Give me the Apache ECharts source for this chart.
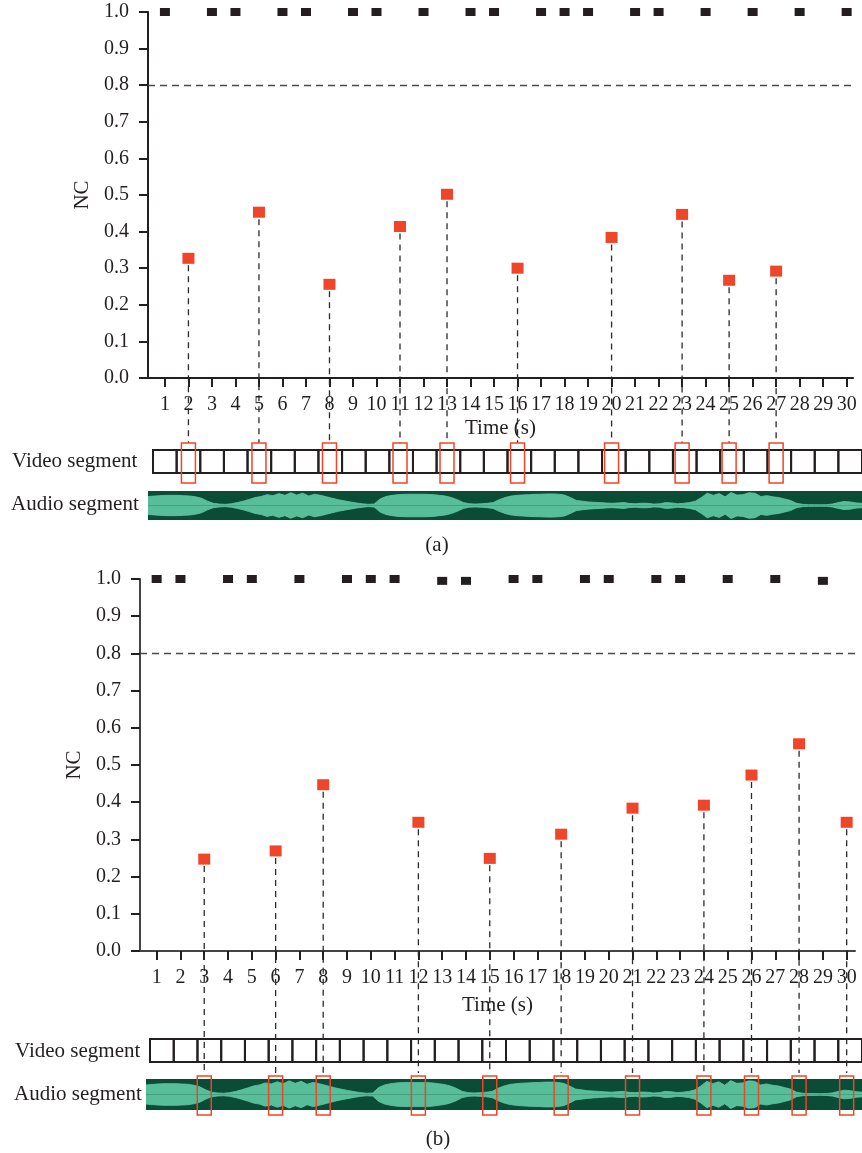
<!DOCTYPE html>
<html>
<head>
<meta charset="utf-8">
<title>NC of video segments</title>
<script src="https://cdn.jsdelivr.net/npm/echarts@6/dist/echarts.min.js"></script>
<style>
  html, body { margin: 0; padding: 0; background: #fff; }
  #chart { width: 862px; height: 1153px; }
</style>
</head>
<body>
<div id="chart"></div>
<script>
// time ticks (s) / video segments
const seconds = [1, 2, 3, 4, 5, 6, 7, 8, 9, 10, 11, 12, 13, 14, 15, 16, 17, 18, 19, 20, 21, 22, 23, 24, 25, 26, 27, 28, 29, 30];

// (a) tampered segments and their NC
const markedA = [2, 5, 8, 11, 13, 16, 20, 23, 25, 27];
const markedNcA = [0.327, 0.453, 0.256, 0.414, 0.502, 0.300, 0.384, 0.447, 0.267, 0.292];
// (a) untouched segments
const cleanA = [1, 3, 4, 6, 7, 9, 10, 12, 14, 15, 17, 18, 19, 21, 22, 24, 26, 28, 30];
const cleanNcA = [1, 1, 1, 1, 1, 1, 1, 1, 1, 1, 1, 1, 1, 1, 1, 1, 1, 1, 1];

// (b)
const markedB = [3, 6, 8, 12, 15, 18, 21, 24, 26, 28, 30];
const markedNcB = [0.247, 0.269, 0.447, 0.346, 0.249, 0.314, 0.384, 0.392, 0.473, 0.557, 0.346];
const cleanB = [1, 2, 4, 5, 7, 9, 10, 11, 13, 14, 16, 17, 19, 20, 22, 23, 25, 27, 29];
const cleanNcB = [1, 1, 1, 1, 1, 1, 1, 1, 0.995, 0.995, 1, 1, 1, 1, 1, 1, 1, 1, 0.995];

const threshold = 0.8;

// audio envelope (same clip in both panels), time 0..30 every 0.25
const audioTime = [0, 0.25, 0.5, 0.75, 1, 1.25, 1.5, 1.75, 2, 2.25, 2.5, 2.75, 3, 3.25, 3.5, 3.75,
  4, 4.25, 4.5, 4.75, 5, 5.25, 5.5, 5.75, 6, 6.25, 6.5, 6.75, 7, 7.25, 7.5, 7.75,
  8, 8.25, 8.5, 8.75, 9, 9.25, 9.5, 9.75, 10, 10.25, 10.5, 10.75, 11, 11.25, 11.5, 11.75,
  12, 12.25, 12.5, 12.75, 13, 13.25, 13.5, 13.75, 14, 14.25, 14.5, 14.75, 15, 15.25, 15.5, 15.75,
  16, 16.25, 16.5, 16.75, 17, 17.25, 17.5, 17.75, 18, 18.25, 18.5, 18.75, 19, 19.25, 19.5, 19.75,
  20, 20.25, 20.5, 20.75, 21, 21.25, 21.5, 21.75, 22, 22.25, 22.5, 22.75, 23, 23.25, 23.5, 23.75,
  24, 24.25, 24.5, 24.75, 25, 25.25, 25.5, 25.75, 26, 26.25, 26.5, 26.75, 27, 27.25, 27.5, 27.75,
  28, 28.25, 28.5, 28.75, 29, 29.25, 29.5, 29.75, 30];
const audioEnv = [0.62, 0.65, 0.68, 0.7, 0.7, 0.7, 0.68, 0.66, 0.6, 0.5, 0.3, 0.15, 0.1, 0.08, 0.12, 0.2,
  0.3, 0.42, 0.55, 0.62, 0.75, 0.68, 0.82, 0.7, 0.88, 0.72, 0.85, 0.66, 0.78, 0.7, 0.6, 0.5,
  0.4, 0.32, 0.25, 0.18, 0.12, 0.08, 0.1, 0.45, 0.62, 0.7, 0.75, 0.77, 0.78, 0.78, 0.78, 0.77,
  0.75, 0.7, 0.65, 0.55, 0.4, 0.2, 0.12, 0.1, 0.12, 0.15, 0.2, 0.4, 0.55, 0.65, 0.7, 0.73,
  0.75, 0.77, 0.78, 0.8, 0.8, 0.78, 0.72, 0.55, 0.35, 0.3, 0.25, 0.22, 0.2, 0.17, 0.15, 0.18,
  0.2, 0.14, 0.12, 0.16, 0.15, 0.1, 0.12, 0.2, 0.18, 0.12, 0.15, 0.2, 0.3, 0.55, 0.85, 0.7,
  0.82, 0.6, 0.9, 0.72, 0.75, 0.88, 0.85, 0.62, 0.68, 0.6, 0.55, 0.45, 0.35, 0.15, 0.08, 0.06,
  0.06, 0.05, 0.06, 0.1, 0.2, 0.28, 0.25, 0.18, 0.15];

const ink = '#231f20';
const red = '#ef4529';
const serif = '"Liberation Serif", "DejaVu Serif", serif';

const chart = echarts.init(document.getElementById('chart'));

const pair = (xs, ys) => xs.map((x, i) => [x, ys[i]]);

function mainX(idx, min, max, lineColor) {
  return {
    gridIndex: idx, type: 'value', min: min, max: max,
    name: 'Time (s)', nameLocation: 'middle', nameGap: idx === 0 ? 40 : 44,
    nameTextStyle: { fontFamily: serif, fontSize: 21, color: ink },
    axisLine: { show: true, lineStyle: { color: lineColor, width: 2 } },
    axisTick: { show: true, length: 9, customValues: seconds, lineStyle: { color: ink, width: 2 } },
    axisLabel: { customValues: seconds, margin: 17, fontFamily: serif, fontSize: 20, color: ink },
    splitLine: { show: false }
  };
}

function mainY(idx, lineColor) {
  return {
    gridIndex: idx, type: 'value', min: 0, max: 1, interval: 0.1,
    name: 'NC', nameLocation: 'middle', nameGap: 55,
    nameTextStyle: { fontFamily: serif, fontSize: 21, color: ink },
    axisLine: { show: true, lineStyle: { color: lineColor, width: 2 } },
    axisTick: { show: true, length: 9, lineStyle: { color: ink, width: 2 } },
    axisLabel: { margin: 19, fontFamily: serif, fontSize: 20, color: ink, formatter: v => v.toFixed(1) },
    splitLine: { show: false }
  };
}

function hiddenX(idx, min, max) {
  return { gridIndex: idx, type: 'value', min: min, max: max, show: false, splitLine: { show: false } };
}
function hiddenY(idx, min, max) {
  return { gridIndex: idx, type: 'value', min: min, max: max, show: false, splitLine: { show: false } };
}

// stems from the NC marker down to the segment strip, plus the red box on the strip
function stems(idx, xs, ys, drop, boxTop, boxH) {
  return {
    type: 'custom', xAxisIndex: idx, yAxisIndex: idx, clip: false, z: 6, silent: true,
    data: pair(xs, ys),
    renderItem: function (params, api) {
      const top = api.coord([api.value(0), api.value(1)]);
      const base = api.coord([api.value(0), 0]);
      return {
        type: 'group',
        children: [
          { type: 'line', shape: { x1: top[0], y1: top[1] + 7, x2: top[0], y2: base[1] + drop },
            style: { stroke: '#2b2b2b', lineWidth: 1.3, lineDash: [6, 5] } },
          { type: 'rect', shape: { x: top[0] - 7, y: base[1] + boxTop, width: 14, height: boxH },
            style: { fill: 'none', stroke: red, lineWidth: 1.5 } }
        ]
      };
    }
  };
}

function cells(idx) {
  return {
    type: 'custom', xAxisIndex: idx, yAxisIndex: idx, clip: false, z: 2, silent: true,
    data: seconds,
    renderItem: function (params, api) {
      const c = api.value(0);
      const p0 = api.coord([c - 0.5, 1]);
      const p1 = api.coord([c + 0.5, 0]);
      return { type: 'rect', shape: { x: p0[0], y: p0[1], width: p1[0] - p0[0], height: p1[1] - p0[1] },
        style: { fill: 'none', stroke: ink, lineWidth: 2 } };
    }
  };
}

function wave(idx) {
  const up = audioTime.map((t, i) => [t, audioEnv[i]]);
  const down = audioTime.map((t, i) => [t, -audioEnv[i]]);
  const base = {
    type: 'line', xAxisIndex: idx, yAxisIndex: idx, showSymbol: false, silent: true, z: 3,
    lineStyle: { width: 0.8, color: '#62c6a3' },
    areaStyle: { color: '#58bd99', opacity: 1, origin: 0 }
  };
  return [Object.assign({}, base, { data: up }), Object.assign({}, base, { data: down })];
}

function scatters(idx, xs, ys, cx, cy) {
  return [
    {
      type: 'scatter', xAxisIndex: idx, yAxisIndex: idx, symbol: 'rect', symbolSize: [10, 8], z: 5,
      itemStyle: { color: ink, opacity: 1 }, data: pair(cx, cy),
      markLine: {
        silent: true, symbol: 'none', label: { show: false },
        lineStyle: { color: '#4a4a4a', width: 1.3, type: [7, 5] },
        data: [{ yAxis: threshold }]
      }
    },
    {
      type: 'scatter', xAxisIndex: idx, yAxisIndex: idx, symbol: 'rect', symbolSize: [12, 11], z: 7,
      itemStyle: { color: red, opacity: 1 }, data: pair(xs, ys)
    }
  ];
}

const text = (str, x, y, align) => ({
  type: 'text', x: x, y: y,
  style: { text: str, font: '21px ' + serif, fill: ink, textAlign: align, align: align,
    textVerticalAlign: 'middle', verticalAlign: 'middle' }
});

chart.setOption({
  animation: false,
  backgroundColor: '#fff',
  grid: [
    { left: 148, top: 12, width: 705, height: 366 },
    { left: 140, top: 579, width: 715, height: 372 },
    { left: 153, top: 450, width: 709, height: 23 },
    { left: 148, top: 491, width: 714, height: 29, show: true, backgroundColor: '#0b4c36', borderWidth: 0 },
    { left: 150, top: 1039, width: 712, height: 23 },
    { left: 146, top: 1079, width: 716, height: 31, show: true, backgroundColor: '#0b4c36', borderWidth: 0 }
  ],
  xAxis: [
    mainX(0, 0.28, 30.27, ink),
    mainX(1, 0.3, 30.35, '#444'),
    hiddenX(2, 0.5, 30.5),
    hiddenX(3, 0, 30),
    hiddenX(4, 0.5, 30.5),
    hiddenX(5, 0, 30)
  ],
  yAxis: [
    mainY(0, ink),
    mainY(1, '#444'),
    hiddenY(2, 0, 1),
    hiddenY(3, -1, 1),
    hiddenY(4, 0, 1),
    hiddenY(5, -1, 1)
  ],
  graphic: [
    text('Video segment', 12, 461, 'left'),
    text('Audio segment', 11, 504, 'left'),
    text('(a)', 437, 545, 'center'),
    text('Video segment', 15, 1051, 'left'),
    text('Audio segment', 14, 1094, 'left'),
    text('(b)', 438, 1139, 'center')
  ],
  series: [].concat(
    scatters(0, markedA, markedNcA, cleanA, cleanNcA),
    scatters(1, markedB, markedNcB, cleanB, cleanNcB),
    [stems(0, markedA, markedNcA, 65, 65, 40), stems(1, markedB, markedNcB, 122, 125, 39)],
    [cells(2), cells(4)],
    wave(3), wave(5)
  )
});
</script>
</body>
</html>
